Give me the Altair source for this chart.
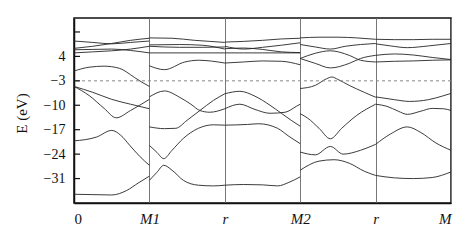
import altair as alt
import pandas as pd

# ---- axis text ----
k_labels = ["0", "M1", "r", "M2", "r", "M"]
k_ticks = [0, 1, 2, 3, 4, 5]
e_ticks = [11, 4, -3, -10, -17, -24, -31]
fermi_level = [-3]

t5 = [0, 0.25, 0.5, 0.75, 1]

# ---- segment 1: 0 -> M1 ----
s1_b1 = [8.4, 8.0, 7.6, 8.0, 8.4]
s1_b2 = [6.3, 6.9, 7.7, 8.6, 9.2]
s1_b3 = [5.9, 6.0, 6.1, 5.7, 5.0]
s1_b4 = [5.0, 5.3, 5.6, 6.1, 6.9]
s1_b5_t = [0, 0.2, 0.4, 0.6, 0.8, 0.9, 1]
s1_b5 = [-0.2, 0.9, 1.2, 0.6, -2.0, -3.4, -4.6]
s1_b6_t = [0, 0.2, 0.4, 0.56, 0.75, 1]
s1_b6 = [-4.6, -7.2, -10.9, -13.6, -11.5, -8.3]
s1_b7 = [-4.6, -6.3, -8.3, -9.7, -11.0]
s1_b8_t = [0, 0.3, 0.5, 0.62, 0.74, 0.87, 1]
s1_b8 = [-20.2, -19.1, -17.2, -18.6, -21.5, -24.6, -27.2]
s1_b9_t = [0, 0.25, 0.5, 0.7, 0.85, 1]
s1_b9 = [-35.5, -35.6, -35.7, -34.4, -32.3, -30.3]

# ---- segment 2: M1 -> r ----
s2_b1_t = [0, 0.3, 0.6, 0.8, 1]
s2_b1 = [9.3, 9.2, 8.6, 8.3, 8.0]
s2_b2_t = [0, 0.4, 0.7, 1]
s2_b2 = [7.3, 7.4, 7.2, 6.1]
s2_b3 = [6.9, 6.6, 6.6, 6.7]
s2_b4_t = [0, 0.5, 1]
s2_b4 = [5.0, 5.0, 5.0]
s2_b5_t = [0, 0.2, 0.47, 0.65, 1]
s2_b5 = [1.3, 0.2, 2.4, 2.9, 2.1]
s2_l1_t = [0, 0.2, 0.4, 0.55, 0.67, 0.8, 1]
s2_l1 = [-7.6, -5.9, -7.7, -9.7, -11.5, -12.0, -11.0]
s2_l2_t = [0, 0.2, 0.35, 0.5, 0.67, 0.85, 1]
s2_l2 = [-16.2, -16.7, -16.6, -14.3, -11.5, -8.6, -6.7]
s2_l3_t = [0, 0.1, 0.19, 0.3, 0.45, 0.65, 0.85, 1]
s2_l3 = [-21.5, -23.5, -25.3, -22.9, -19.5, -16.6, -15.6, -15.7]
s2_l4 = [-31.5, -29.2, -27.2, -28.6, -31.5, -32.9, -33.1, -32.9]

# ---- segment 3: r -> M2 ----
s3_b1 = [8.1, 8.3, 8.6, 9.0, 9.2]
s3_b2 = [6.9, 6.1, 6.6, 7.2, 7.9]
s3_b3 = [6.2, 6.4, 6.0, 5.3, 5.1]
s3_b4 = [5.0, 5.0, 5.0, 5.0, 5.0]
s3_b5 = [2.1, 2.4, 2.7, 2.6, 1.6]
s3_c_t = [0, 0.2, 0.4, 0.6, 0.75, 0.88, 1]
s3_c = [-6.7, -6.0, -7.4, -10.0, -12.3, -14.3, -16.0]
s3_d_t = [0, 0.2, 0.4, 0.6, 0.8, 0.95, 1]
s3_d = [-11.0, -9.7, -11.2, -12.3, -12.0, -10.3, -9.7]
s3_e_t = [0, 0.3, 0.45, 0.7, 0.85, 1]
s3_e = [-15.7, -15.5, -15.3, -16.6, -18.9, -21.0]
s3_f_t = [0, 0.25, 0.5, 0.7, 0.85, 1]
s3_f = [-32.9, -32.7, -32.8, -33.1, -32.1, -30.5]

# ---- segment 4: M2 -> r ----
s4_t1 = [9.3, 9.5, 9.5, 9.3, 8.9]
s4_t2_t = [0, 0.2, 0.4, 0.6, 0.8, 1]
s4_t2 = [7.4, 6.7, 6.1, 6.9, 7.4, 7.7]
s4_t3_t = [0, 0.2, 0.4, 0.65, 0.8, 1]
s4_t3 = [3.4, 4.9, 5.6, 4.3, 2.9, 2.4]
s4_t4 = [3.4, 2.0, 0.7, 2.0, 3.4, 4.3]
s4_n_t = [0, 0.2, 0.35, 0.42, 0.5, 0.65, 0.85, 1]
s4_n = [-5.2, -4.3, -2.4, -1.9, -2.6, -4.3, -6.3, -7.7]
s4_v_t = [0, 0.1, 0.25, 0.4, 0.55, 0.75, 1]
s4_v = [-12.4, -13.7, -16.6, -19.6, -16.6, -12.9, -9.7]
s4_l_t = [0, 0.2, 0.4, 0.57, 0.8, 1]
s4_l = [-23.4, -24.2, -21.8, -24.0, -22.9, -21.2]
s4_b_t = [0, 0.25, 0.45, 0.65, 0.85, 1]
s4_b = [-28.6, -26.0, -25.6, -26.6, -28.9, -30.1]

# ---- segment 5: r -> M ----
s5_t1 = [8.9, 8.8, 8.8, 8.9, 8.9]
s5_t2_t = [0, 0.2, 0.42, 0.7, 1]
s5_t2 = [7.6, 7.0, 6.5, 7.0, 7.7]
s5_t3 = [4.3, 4.7, 4.4, 3.7, 3.1]
s5_t4 = [2.4, 2.6, 2.7, 2.9, 3.0]
s5_n_t = [0, 0.25, 0.45, 0.7, 0.88, 1]
s5_n = [-7.6, -8.4, -8.9, -8.4, -7.4, -6.6]
s5_m_t = [0, 0.15, 0.3, 0.42, 0.6, 0.75, 0.9, 1]
s5_m = [-9.7, -10.3, -11.7, -12.6, -11.7, -10.9, -11.0, -11.5]
s5_p_t = [0, 0.2, 0.42, 0.6, 0.8, 1]
s5_p = [-21.2, -18.2, -16.2, -17.8, -20.8, -22.9]
s5_b = [-30.1, -30.8, -31.0, -30.7, -29.1]

bands = [
    (0, t5, s1_b1), (0, t5, s1_b2), (0, t5, s1_b3), (0, t5, s1_b4),
    (0, s1_b5_t, s1_b5), (0, s1_b6_t, s1_b6), (0, t5, s1_b7),
    (0, s1_b8_t, s1_b8), (0, s1_b9_t, s1_b9),
    (1, s2_b1_t, s2_b1), (1, s2_b2_t, s2_b2), (1, s2_b2_t, s2_b3),
    (1, s2_b4_t, s2_b4), (1, s2_b5_t, s2_b5), (1, s2_l1_t, s2_l1),
    (1, s2_l2_t, s2_l2), (1, s2_l3_t, s2_l3), (1, s2_l3_t, s2_l4),
    (2, t5, s3_b1), (2, t5, s3_b2), (2, t5, s3_b3), (2, t5, s3_b4),
    (2, t5, s3_b5), (2, s3_c_t, s3_c), (2, s3_d_t, s3_d),
    (2, s3_e_t, s3_e), (2, s3_f_t, s3_f),
    (3, t5, s4_t1), (3, s4_t2_t, s4_t2), (3, s4_t3_t, s4_t3),
    (3, s4_t3_t, s4_t4), (3, s4_n_t, s4_n), (3, s4_v_t, s4_v),
    (3, s4_l_t, s4_l), (3, s4_b_t, s4_b),
    (4, t5, s5_t1), (4, s5_t2_t, s5_t2), (4, t5, s5_t3), (4, t5, s5_t4),
    (4, s5_n_t, s5_n), (4, s5_m_t, s5_m), (4, s5_p_t, s5_p), (4, t5, s5_b),
]

rows = []
for i, (seg, ts, es) in enumerate(bands):
    for t, e in zip(ts, es):
        rows.append({"band": i, "k": seg + t, "E": e})
df = pd.DataFrame(rows)

FONT = "Liberation Serif"
label_js = "[" + ",".join("'%s'" % s for s in k_labels) + "]"

x_scale = alt.Scale(domain=[0, 5], nice=False, zero=False)
y_scale = alt.Scale(domain=[-38, 15], nice=False, zero=False)

x_axis = alt.Axis(values=k_ticks, labelExpr=label_js + "[datum.value]",
                  title=None, grid=True, gridColor="#777", gridWidth=1,
                  ticks=False, labelPadding=8, labelFont=FONT,
                  labelFontSize=15, labelColor="#111", labelOverlap=False,
                  labelFontStyle={"condition": {"test": "datum.value == 0", "value": "normal"},
                                  "value": "italic"},
                  domainColor="#111", domainWidth=1.5)

y_axis = alt.Axis(values=e_ticks,
                  labelExpr="datum.value == 11 ? '' : datum.label",
                  title="E (eV)", titleFont=FONT, titleFontSize=15,
                  titleFontWeight="normal", titleColor="#111",
                  titleX=-45, titleY=95, titleAngle=270,
                  grid=False, ticks=False, labelPadding=9,
                  labelOverlap=False, labelBound=False,
                  labelFont=FONT, labelFontSize=14, labelColor="#111",
                  domainColor="#111", domainWidth=1.5)

lines = alt.Chart(df).mark_line(
    interpolate="monotone", color="#262626", strokeWidth=0.9, clip=True
).encode(
    x=alt.X("k:Q", scale=x_scale, axis=x_axis),
    y=alt.Y("E:Q", scale=y_scale, axis=y_axis),
    detail="band:N",
)

fermi = alt.Chart(pd.DataFrame({"E": fermi_level})).mark_rule(
    color="#888", strokeDash=[3, 3], strokeWidth=1
).encode(y=alt.Y("E:Q", scale=y_scale, axis=y_axis))

ticks = alt.Chart(pd.DataFrame({"E": e_ticks})).mark_rule(
    color="#111", strokeWidth=1.2
).encode(y=alt.Y("E:Q", scale=y_scale, axis=y_axis),
         x=alt.value(0), x2=alt.value(6))

chart = alt.layer(lines, fermi, ticks).properties(
    width=377, height=185,
    padding={"left": 74, "top": 18, "right": 23, "bottom": 37},
    autosize=alt.AutoSizeParams(type="none"),
    background="white",
).configure_view(stroke="#111", strokeWidth=1.5)

chart.save("out.html", embed_options={"renderer": "svg", "actions": False})
